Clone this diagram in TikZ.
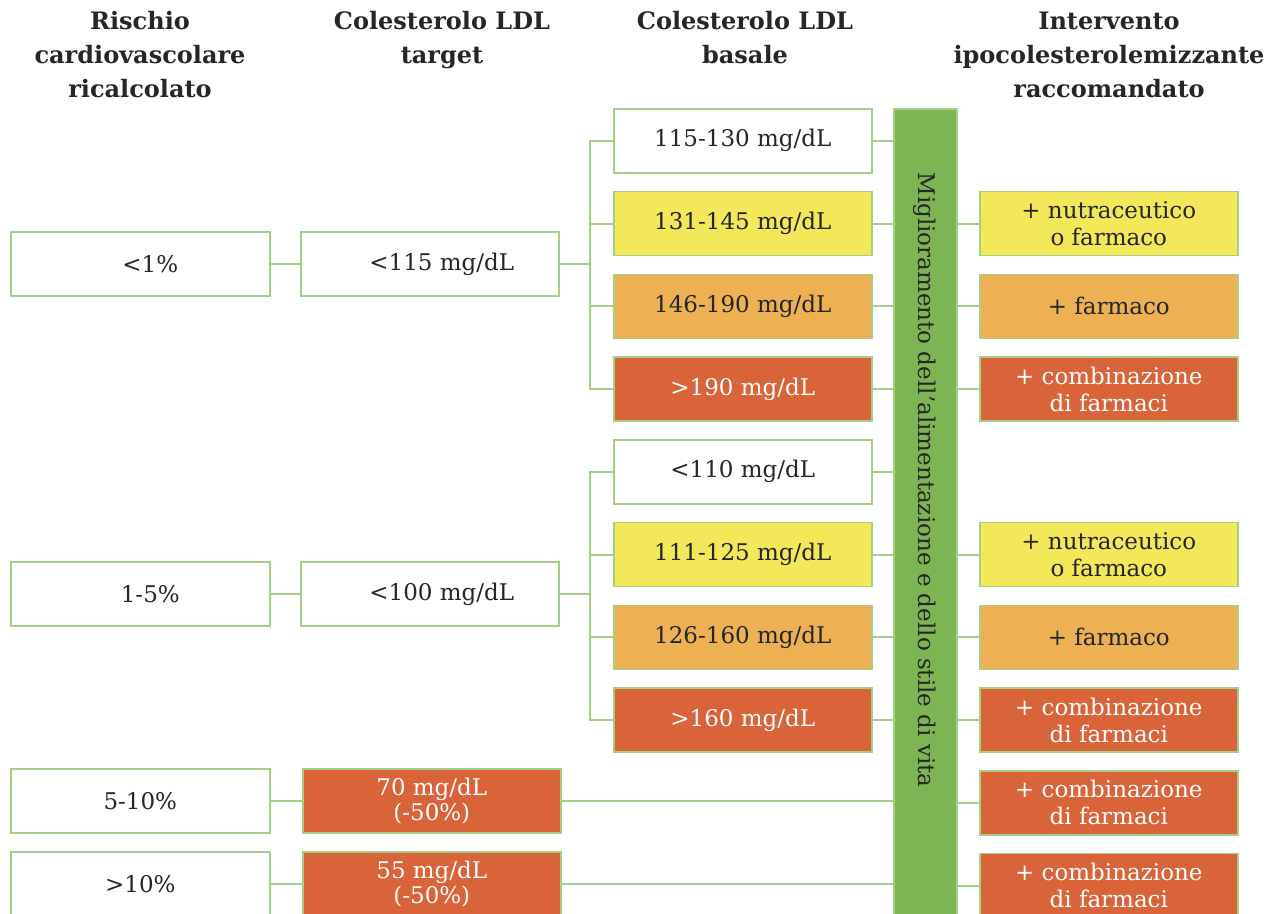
\documentclass[tikz,border=0pt]{standalone}
\usepackage{fontspec}
\setmainfont{DejaVu Serif}
\definecolor{edge}{HTML}{A3CF86}
\definecolor{ink}{HTML}{262626}
\definecolor{lowc}{HTML}{F3E859}
\definecolor{midc}{HTML}{EDB053}
\definecolor{highc}{HTML}{D9643A}
\definecolor{barc}{HTML}{7DB454}
\tikzset{
  box/.style={draw=edge, line width=1.6pt, minimum width=258pt, minimum height=64pt,
    inner sep=0pt, align=center, text=ink, font=\fontsize{23}{27}\selectfont},
  plain/.style={box, fill=white},
  low/.style={box, fill=lowc},
  mid/.style={box, fill=midc},
  high/.style={box, fill=highc, text=white},
  head/.style={align=center, text=ink, font=\bfseries\fontsize{24}{34}\selectfont},
  link/.style={draw=edge, line width=1.9pt},
  lifestyle/.style={draw=edge, line width=1.6pt, fill=barc, minimum width=63pt,
    minimum height=820pt, inner sep=0pt}
}
\begin{document}
\begin{tikzpicture}[x=1pt,y=-1pt]
\useasboundingbox (0,0) rectangle (1271,913);
\clip (0,0) rectangle (1271,913);

% column headings
\node[head, anchor=north] (h1) at (140,8) {Rischio\\cardiovascolare\\ricalcolato};
\node[head, anchor=north] (h2) at (442,8) {Colesterolo LDL\\target};
\node[head, anchor=north] (h3) at (745,8) {Colesterolo LDL\\basale};
\node[head, anchor=north] (h4) at (1109,8) {Intervento\\ipocolesterolemizzante\\raccomandato};

% lifestyle bar
\node[lifestyle, anchor=north west] (bar) at (893,108) {};
\node[rotate=-90, text=ink, font=\fontsize{23}{27}\selectfont] (bartext) at (924.5,480)
  {Miglioramento dell'alimentazione e dello stile di vita};

% risk classes and LDL targets
\node[plain, anchor=west, minimum width=259pt] (r1) at (10,264) {\hspace*{20pt}<1\%};
\node[plain, anchor=west] (t1) at (300,264) {\hspace*{24pt}<115 mg/dL};
\node[plain, anchor=west, minimum width=259pt] (r2) at (10,594) {\hspace*{20pt}1-5\%};
\node[plain, anchor=west] (t2) at (300,594) {\hspace*{24pt}<100 mg/dL};
\node[plain, anchor=west, minimum width=259pt] (r3) at (10,801) {5-10\%};
\node[high, anchor=west] (t3) at (302,801) {70 mg/dL\\[-2pt](-50\%)};
\node[plain, anchor=west, minimum width=259pt] (r4) at (10,884) {>10\%};
\node[high, anchor=west] (t4) at (302,884) {55 mg/dL\\[-2pt](-50\%)};

% baseline LDL ranges
\node[plain, anchor=north west] (b1) at (613,108)    {115-130 mg/dL};
\node[low,   anchor=north west] (b2) at (613,190.75) {131-145 mg/dL};
\node[mid,   anchor=north west] (b3) at (613,273.5)  {146-190 mg/dL};
\node[high,  anchor=north west] (b4) at (613,356.25) {>190 mg/dL};
\node[plain, anchor=north west] (b5) at (613,439)    {<110 mg/dL};
\node[low,   anchor=north west] (b6) at (613,521.75) {111-125 mg/dL};
\node[mid,   anchor=north west] (b7) at (613,604.5)  {126-160 mg/dL};
\node[high,  anchor=north west] (b8) at (613,687.25) {>160 mg/dL};

% recommended treatment
\node[low,  anchor=north west] (i2) at (979,190.75) {+ nutraceutico\\o farmaco};
\node[mid,  anchor=north west] (i3) at (979,273.5)  {+ farmaco};
\node[high, anchor=north west] (i4) at (979,356.25) {+ combinazione\\di farmaci};
\node[low,  anchor=north west] (i6) at (979,521.75) {+ nutraceutico\\o farmaco};
\node[mid,  anchor=north west] (i7) at (979,604.5)  {+ farmaco};
\node[high, anchor=north west] (i8) at (979,687.25) {+ combinazione\\di farmaci};
\node[high, anchor=north west] (i9) at (979,770)    {+ combinazione\\di farmaci};
\node[high, anchor=north west] (i10) at (979,852.75) {+ combinazione\\di farmaci};

% branch points
\coordinate (k1) at (590,264);
\coordinate (k2) at (590,594);

% connectors
\draw[link] (r1.east) -- (t1.west);
\draw[link] (r2.east) -- (t2.west);
\draw[link] (r3.east) -- (t3.west);
\draw[link] (r4.east) -- (t4.west);
\draw[link] (t1.east) -- (k1);
\draw[link] (t2.east) -- (k2);
\draw[link] (b1.west) -- (b1.west -| k1) -- (b4.west -| k1) -- (b4.west);
\draw[link] (b2.west) -- (b2.west -| k1);
\draw[link] (b3.west) -- (b3.west -| k1);
\draw[link] (b5.west) -- (b5.west -| k2) -- (b8.west -| k2) -- (b8.west);
\draw[link] (b6.west) -- (b6.west -| k2);
\draw[link] (b7.west) -- (b7.west -| k2);
\foreach \b in {b1,b2,b3,b4,b5,b6,b7,b8}
  \draw[link] (\b.east) -- (\b.east -| bar.west);
\draw[link] (t3.east) -- (t3.east -| bar.west);
\draw[link] (t4.east) -- (t4.east -| bar.west);
\foreach \i in {i2,i3,i4,i6,i7,i8,i9,i10}
  \draw[link] (\i.west -| bar.east) -- (\i.west);
\end{tikzpicture}
\end{document}
